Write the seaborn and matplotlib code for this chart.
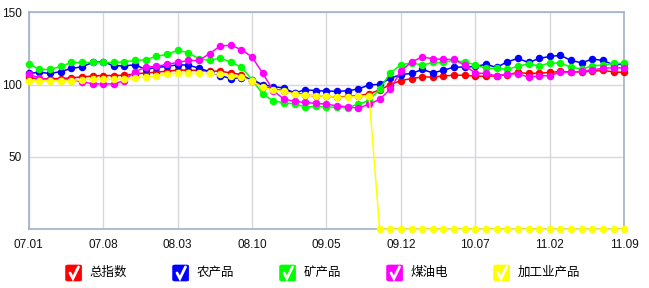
import numpy as np
import pandas as pd
import seaborn as sns
import matplotlib
matplotlib.use("Agg")
import matplotlib.pyplot as plt
from matplotlib.patches import FancyBboxPatch
from matplotlib.lines import Line2D

# ---------------- data ----------------
tick_labels = ["07.01", "07.08", "08.03", "08.10", "09.05", "09.12", "10.07", "11.02", "11.09"]
series_names = ["总指数", "农产品", "矿产品", "煤油电", "加工业产品"]
series_colors = ["#ff0000", "#0000ff", "#00ff00", "#ff00ff", "#ffff00"]

total = [105.1, 103.7, 104.2, 104.2, 104.7, 105.3, 106, 106.3, 106.3, 106.5, 107.4, 108.1, 108.6, 109.3, 110,
         110, 109.8, 109.3, 109.3, 108.1, 107, 102.8, 98.6, 97, 95.8, 94.4, 93, 92.1, 91.9, 91.4, 91.9, 92.3,
         93.7, 96.3, 100, 102.8, 104.2, 105.3, 105.3, 106, 106.5, 106.5, 105.8, 105.8, 106, 107, 108.4, 107.7,
         107.9, 108.4, 109.1, 108.8, 108.8, 109.3, 109.8, 108.8, 108.4]
agri = [107.7, 108.6, 107.7, 109, 111.2, 112.3, 115.3, 115.8, 113, 113, 113.7, 110.5, 111.9, 112.6, 113.7,
        113.5, 111.4, 109, 106.3, 104.2, 104.9, 103.5, 100, 98.6, 97.7, 94.2, 96.5, 95.8, 95.6, 95.3, 95.8, 97,
        99.8, 100.2, 104.4, 107, 107.7, 110.5, 108.1, 110, 112.1, 112.1, 112.6, 114, 111.9, 115.8, 118.1, 115.3,
        118.1, 119.5, 120.2, 116.7, 115.1, 117.7, 116.7, 113.7, 114.4]
mineral = [114.4, 110.5, 110.5, 112.6, 115.3, 115.3, 115.3, 115.3, 115.3, 115.8, 116.7, 117.2, 119.5, 120.9,
           123.7, 122.1, 117.9, 116.7, 118.4, 115.6, 112, 103.5, 93.5, 88.8, 87.4, 86.7, 84.7, 84.9, 84.7, 84.2,
           84, 86.7, 88.8, 97, 108.1, 113.7, 115.1, 113.5, 115.3, 115.3, 116.7, 115.6, 113.7, 111.2, 111.2, 110.7,
           112.6, 114.4, 112.8, 115.1, 114.7, 112.1, 110.7, 113, 113.5, 114.7, 114.7]
energy = [107.4, 104.4, 103.3, 103.3, 103.3, 102.1, 100.5, 100.5, 100.5, 102.8, 109, 112.1, 112.6, 114, 115.3,
          116.7, 116.7, 121.4, 126.7, 127.2, 124.2, 119.1, 107.9, 95.8, 90, 88.4, 87.7, 87, 86.5, 85.3, 84.7,
          83.7, 86.5, 89.8, 97, 109.3, 115.8, 119.1, 117.9, 117.4, 117.4, 113.3, 107.9, 107.7, 106, 107.4, 107.4,
          105.3, 106, 106.3, 108.6, 108.6, 109.3, 110.2, 111.4, 111.6, 111.6]
industry = [102.8, 102.8, 102.8, 102.8, 102.8, 103.5, 103.7, 103.7, 103.7, 104, 104.9, 105.3, 106, 107.4, 107.7,
            107.7, 107.7, 107.7, 107.4, 105.8, 105.1, 102.3, 98.1, 96.3, 95.3, 93.5, 92.8, 92.3, 91.9, 91.2, 91.2,
            91.9, 92.3] + [0] * 24

all_series = [total, agri, mineral, energy, industry]
n = len(total)
frames = []
for name, vals in zip(series_names, all_series):
    frames.append(pd.DataFrame({"idx": np.arange(n), "value": vals, "series": name}))
df = pd.concat(frames, ignore_index=True)

# ---------------- style ----------------
sns.set_style("white")
plt.rcParams["font.family"] = ["Liberation Sans", "Noto Sans CJK SC", "DejaVu Sans"]

W, H = 649, 288
fig = plt.figure(figsize=(W / 100, H / 100), dpi=100)
left, right, top, bottom = 28.7, 624.3, 12.3, 229.3
ax = fig.add_axes([left / W, 1 - bottom / H, (right - left) / W, (bottom - top) / H])

frame_c = "#9fb3c8"
grid_c = "#d9d6dc"

sns.lineplot(data=df, x="idx", y="value", hue="series", hue_order=series_names,
             palette=series_colors, marker="o", markersize=5.4, markeredgewidth=0,
             linewidth=1.1, legend=False, ax=ax, clip_on=False, zorder=3)

ax.set_xlim(0, n - 1)
ax.set_ylim(0, 150)
ax.set_xticks(np.arange(0, n, 7))
ax.set_xticklabels(tick_labels)
ax.set_yticks([50, 100, 150])
ax.set_yticklabels(["50", "100", "150"])
ax.set_xlabel("")
ax.set_ylabel("")
ax.grid(True, color=grid_c, linewidth=1)
ax.set_axisbelow(True)
for s in ax.spines.values():
    s.set_color(frame_c)
    s.set_linewidth(1.2)
    s.set_visible(True)
ax.tick_params(axis="both", length=4, width=1, color=frame_c, labelsize=8.5, labelcolor="#111111")
ax.tick_params(axis="y", pad=1)
ax.tick_params(axis="x", pad=3)

# ---------------- legend with check boxes (drawn in figure pixels) ----------------
box_size = 16
y_center = 273
for i, (name, c) in enumerate(zip(series_names, series_colors)):
    bx = 65.7 + 107 * i
    by = H - y_center - box_size / 2
    box = FancyBboxPatch((bx / W, by / H), box_size / W, box_size / H,
                         boxstyle="round,pad=0,rounding_size=0.004",
                         fc=c, ec=c, lw=0.5, transform=fig.transFigure, figure=fig)
    fig.patches.append(box)
    xs = [bx + 0.27 * box_size, bx + 0.45 * box_size, bx + 0.80 * box_size]
    ys = [by + 0.50 * box_size, by + 0.16 * box_size, by + 0.88 * box_size]
    chk = Line2D([x / W for x in xs], [y / H for y in ys], color="white", lw=2.0,
                 transform=fig.transFigure, figure=fig, solid_joinstyle="miter")
    fig.lines.append(chk)
    fig.text((bx + 24) / W, 1 - y_center / H, name, fontsize=9, color="#000000",
             ha="left", va="center")

fig.savefig("out.png", dpi=100)
